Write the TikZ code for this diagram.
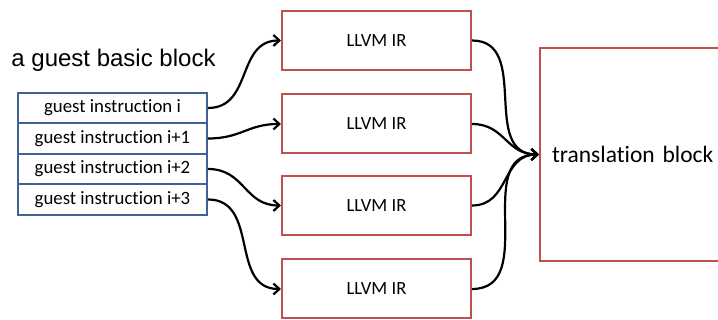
\documentclass[tikz,border=0pt]{standalone}
\usepackage{fontspec}
\setmainfont{Carlito}[Ligatures=NoCommon]
\newfontfamily\headfont{Liberation Sans}
\usetikzlibrary{arrows.meta, positioning}

\definecolor{rowblue}{RGB}{64,98,150}
\definecolor{irred}{RGB}{192,80,77}

\begin{document}
\begin{tikzpicture}[
    x=1pt, y=1pt,
    node distance=-2pt,
    row/.style={draw=rowblue, line width=2pt, minimum width=189pt, minimum height=30.5pt,
                inner sep=0pt, font=\fontsize{18.8}{21}\selectfont},
    irbox/.style={draw=irred, line width=2pt, minimum width=189pt, minimum height=59pt,
                  inner sep=0pt, font=\fontsize{18.6}{21}\selectfont},
    tbbox/.style={draw=irred, line width=2pt, text width=197pt, inner xsep=12pt,
                  minimum height=213pt, align=left, font=\fontsize{23.5}{26}\selectfont},
    flow/.style={-{Straight Barb[length=6pt, width=11pt, line width=2.2pt]}, line width=2.2pt,
                 looseness=1.15}
]
  \clip (0,0) rectangle (718,320);

  % block of guest instructions
  \node[font=\headfont\fontsize{24}{27}\selectfont] (title) at (113.5,260) {a guest basic block};
  \node[row] (g1) at (112.5,212) {guest instruction i};
  \node[row, below=of g1] (g2) {guest instruction i+1};
  \node[row, below=of g2] (g3) {guest instruction i+2};
  \node[row, below=of g3] (g4) {guest instruction i+3};

  % one IR fragment per instruction
  \node[irbox] (ir1) at (376.5,279.5) {LLVM IR};
  \node[irbox] (ir2) at (376.5,196) {LLVM IR};
  \node[irbox] (ir3) at (376.5,114.5) {LLVM IR};
  \node[irbox] (ir4) at (376.5,31) {LLVM IR};

  % the resulting block (right side runs off the page)
  \node[tbbox, anchor=north west] (tb) at (539,273) {translation block};

  \foreach \i in {1,...,4} {
    \draw[flow] (g\i.east) to[out=0, in=180] (ir\i.west);
    \draw[flow] (ir\i.east) to[out=0, in=180] (tb.west);
  }
\end{tikzpicture}
\end{document}
